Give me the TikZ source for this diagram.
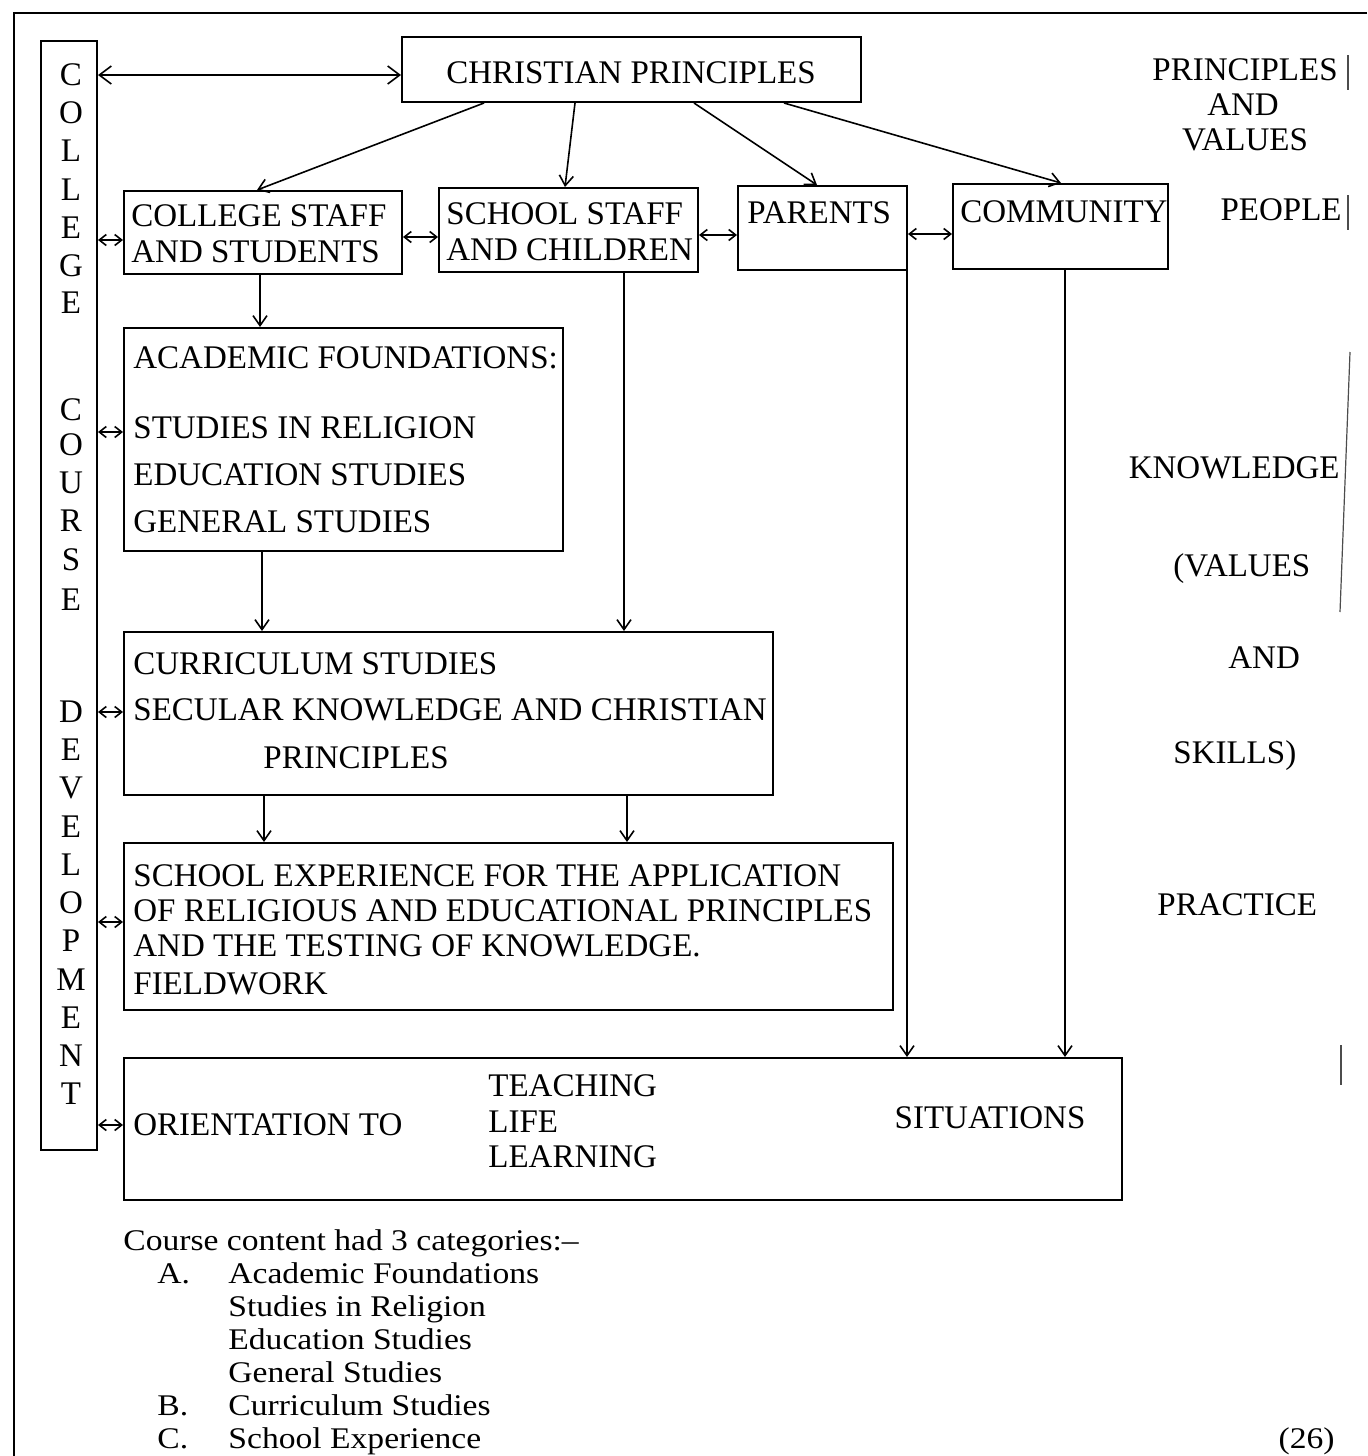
\documentclass[tikz,border=0pt]{standalone}
\usepackage{fontspec}
\setmainfont{Liberation Serif}
\newfontfamily\notefont[FakeStretch=1.12]{Liberation Serif}
\usetikzlibrary{arrows.meta,calc,fit}
\tikzset{
  box/.style={draw, line width=1pt, inner sep=0pt, rectangle},
  lbl/.style={font=\fontsize{16.5pt}{18pt}\selectfont, inner sep=0pt, anchor=west},
  lblc/.style={font=\fontsize{16.5pt}{18pt}\selectfont, inner sep=0pt, anchor=center},
  note/.style={font=\notefont\fontsize{15pt}{16.5pt}\selectfont, inner sep=0pt, anchor=base west},
  arr/.style={line width=0.8pt, -{Straight Barb[length=5pt,width=7pt]}},
  darr/.style={line width=0.8pt, {Straight Barb[length=3.5pt,width=5.5pt]}-{Straight Barb[length=3.5pt,width=5.5pt]}},
  darrbig/.style={line width=0.8pt, {Straight Barb[length=6pt,width=9pt]}-{Straight Barb[length=6pt,width=9pt]}},
  brk/.style={line width=0.6pt, black!70},
}
\begin{document}
\begin{tikzpicture}[x=0.5pt,y=-0.5pt]
\useasboundingbox (0,0) rectangle (1367,1456);
% outer frame
\draw[line width=1.2pt] (1367,13) -- (14,13) -- (14,1456);

% boxes
\node[box, fit={(41,41) (97,1150)}] (vb) {};
\node[box, fit={(402,37) (861,102)}] (cp) {};
\node[box, fit={(124,191) (402,274)}] (cs) {};
\node[box, fit={(439,188) (698,272)}] (ss) {};
\node[box, fit={(738,186) (907,270)}] (pa) {};
\node[box, fit={(953,184) (1168,269)}] (co) {};
\node[box, fit={(124,328) (563,551)}] (af) {};
\node[box, fit={(124,632) (773,795)}] (cu) {};
\node[box, fit={(124,843) (893,1010)}] (se) {};
\node[box, fit={(124,1058) (1122,1200)}] (ori) {};

% vertical letters
\foreach \ch/\yy [count=\i] in {C/75,O/113,L/151,L/190,E/228,G/266,E/303,
  C/410,O/445,U/483,R/521,S/560,E/600,
  D/712,E/750,V/788,E/827,L/865,O/903,P/941,M/980,E/1018,N/1056,T/1094}
  \node[lblc] (v\i) at (71,\yy) {\ch};

% box texts
\node[lblc] (tcp) at (631,73) {CHRISTIAN PRINCIPLES};
\node[lbl] (tcs1) at (131,216) {COLLEGE STAFF};
\node[lbl] (tcs2) at (131,252) {AND STUDENTS};
\node[lbl] (tss1) at (446,214) {SCHOOL STAFF};
\node[lbl] (tss2) at (446,250) {AND CHILDREN};
\node[lbl] (tpa) at (747,213) {PARENTS};
\node[lbl] (tco) at (960,212) {COMMUNITY};
\node[lbl] (taf1) at (133,358) {ACADEMIC FOUNDATIONS:};
\node[lbl] (taf2) at (133,428) {STUDIES IN RELIGION};
\node[lbl] (taf3) at (133,475) {EDUCATION STUDIES};
\node[lbl] (taf4) at (133,522) {GENERAL STUDIES};
\node[lbl] (tcu1) at (133,664) {CURRICULUM STUDIES};
\node[lbl] (tcu2) at (133,710) {SECULAR KNOWLEDGE AND CHRISTIAN};
\node[lbl] (tcu3) at (263,758) {PRINCIPLES};
\node[lbl] (tse1) at (133,876) {SCHOOL EXPERIENCE FOR THE APPLICATION};
\node[lbl] (tse2) at (133,911) {OF RELIGIOUS AND EDUCATIONAL PRINCIPLES};
\node[lbl] (tse3) at (133,946) {AND THE TESTING OF KNOWLEDGE.};
\node[lbl] (tse4) at (133,984) {FIELDWORK};
\node[lbl] (tor1) at (133,1125) {ORIENTATION TO};
\node[lbl] (tor2) at (488,1086) {TEACHING};
\node[lbl] (tor3) at (488,1122) {LIFE};
\node[lbl] (tor4) at (488,1157) {LEARNING};
\node[lblc] (tor5) at (990,1118) {SITUATIONS};

% right-hand labels
\node[lblc] (r1) at (1245,70) {PRINCIPLES};
\node[lblc] (r2) at (1243,105) {AND};
\node[lblc] (r3) at (1245,140) {VALUES};
\node[lbl, anchor=east] (r4) at (1342,210) {PEOPLE};
\node[lbl, anchor=east] (r5) at (1340,468) {KNOWLEDGE};
\node[lbl, anchor=base west] (r6) at (1173,576) {(VALUES};
\node[lbl] (r7) at (1228,658) {AND};
\node[lbl, anchor=base west] (r8) at (1173,763) {SKILLS)};
\node[lbl] (r9) at (1157,905) {PRACTICE};

% right bracket marks
\draw[brk] (1348,55) -- (1348,90);
\draw[brk] (1348,195) -- (1348,230);
\draw[brk] (1350,352) -- (1340,612);
\draw[brk] (1341,1045) -- (1341,1085);

% row coordinates
\coordinate (y0) at (0,75);
\coordinate (yA) at (0,240);
\coordinate (yB) at (0,237);
\coordinate (yC) at (0,235);
\coordinate (yD) at (0,234);
\coordinate (yE) at (0,432);
\coordinate (yF) at (0,712);
\coordinate (yG) at (0,922);
\coordinate (yH) at (0,1125);
\coordinate (xA) at (260,0);
\coordinate (xB) at (262,0);
\coordinate (xC) at (624,0);
\coordinate (xD) at (264,0);
\coordinate (xE) at (627,0);
\coordinate (xF) at (907,0);
\coordinate (xG) at (1065,0);

% connectors from Christian principles
\draw[darrbig] (vb.east |- y0) -- (cp.west |- y0);
\draw[arr] ($(cp.south west)+(83,0)$) -- ($(cs.north west)+(134,0)$);
\draw[arr] ($(cp.south west)+(174,0)$) -- ($(ss.north west)+(127,0)$);
\draw[arr] ($(cp.south west)+(293,0)$) -- ($(pa.north west)+(80,0)$);
\draw[arr] ($(cp.south west)+(383,0)$) -- ($(co.north west)+(109,0)$);

% horizontal double arrows
\draw[darr] (vb.east |- yA) -- (cs.west |- yA);
\draw[darr] (cs.east |- yB) -- (ss.west |- yB);
\draw[darr] (ss.east |- yC) -- (pa.west |- yC);
\draw[darr] (pa.east |- yD) -- (co.west |- yD);
\draw[darr] (vb.east |- yE) -- (af.west |- yE);
\draw[darr] (vb.east |- yF) -- (cu.west |- yF);
\draw[darr] (vb.east |- yG) -- (se.west |- yG);
\draw[darr] (vb.east |- yH) -- (ori.west |- yH);

% vertical arrows
\draw[arr] (cs.south -| xA) -- (af.north -| xA);
\draw[arr] (af.south -| xB) -- (cu.north -| xB);
\draw[arr] (ss.south -| xC) -- (cu.north -| xC);
\draw[arr] (cu.south -| xD) -- (se.north -| xD);
\draw[arr] (cu.south -| xE) -- (se.north -| xE);
\draw[arr] (pa.south -| xF) -- (ori.north -| xF);
\draw[arr] (co.south -| xG) -- (ori.north -| xG);

% notes
\node[note] (n0) at (123,1250) {Course content had 3 categories:–};
\node[note] (n1) at (157,1283) {A.};
\node[note] (n2) at (228,1283) {Academic Foundations};
\node[note] (n3) at (228,1316) {Studies in Religion};
\node[note] (n4) at (228,1349) {Education Studies};
\node[note] (n5) at (228,1382) {General Studies};
\node[note] (n6) at (157,1415) {B.};
\node[note] (n7) at (228,1415) {Curriculum Studies};
\node[note] (n8) at (157,1448) {C.};
\node[note] (n9) at (228,1448) {School Experience};
\node[note, anchor=base east] (n10) at (1335,1448) {(26)};
\end{tikzpicture}
\end{document}
